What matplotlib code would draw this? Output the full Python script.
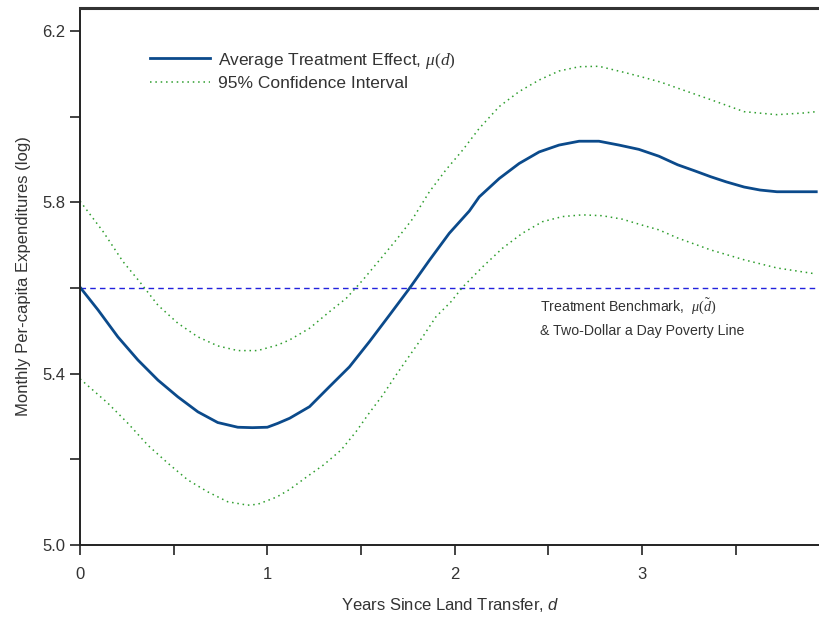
import numpy as np
import matplotlib
matplotlib.use("Agg")
import matplotlib.pyplot as plt

plt.rcParams['font.family'] = ['Liberation Sans', 'DejaVu Sans']
plt.rcParams['mathtext.fontset'] = 'custom'
plt.rcParams['mathtext.rm'] = 'Liberation Serif'
plt.rcParams['mathtext.it'] = 'Liberation Serif:italic'
plt.rcParams['mathtext.sf'] = 'Liberation Sans:italic'

# average treatment effect
ate_d = [0.0, 0.096, 0.202, 0.309, 0.416, 0.522, 0.629, 0.735, 0.842, 0.92,
         1.0, 1.055, 1.119, 1.225, 1.332, 1.438, 1.545, 1.652, 1.758, 1.865,
         1.971, 2.078, 2.131, 2.238, 2.344, 2.451, 2.557, 2.664, 2.770,
         2.877, 2.983, 3.090, 3.19, 3.28, 3.367, 3.45, 3.545, 3.63, 3.72,
         3.93]
ate_y = [5.602, 5.549, 5.486, 5.432, 5.385, 5.346, 5.311, 5.286, 5.275,
         5.274, 5.275, 5.284, 5.296, 5.323, 5.370, 5.416, 5.475, 5.537,
         5.599, 5.665, 5.728, 5.780, 5.813, 5.856, 5.891, 5.918, 5.934,
         5.943, 5.943, 5.934, 5.924, 5.908, 5.888, 5.874, 5.860, 5.848,
         5.836, 5.829, 5.825, 5.825]

# 95% confidence band
up_d = [0.0, 0.123, 0.229, 0.318, 0.416, 0.522, 0.629, 0.735, 0.842, 0.948,
        1.055, 1.119, 1.225, 1.332, 1.421, 1.510, 1.598, 1.687, 1.776,
        1.865, 1.953, 2.042, 2.131, 2.238, 2.344, 2.451, 2.557, 2.664,
        2.770, 2.912, 3.0, 3.1, 3.19, 3.367, 3.545, 3.72, 3.865, 3.93]
up_y = [5.803, 5.732, 5.662, 5.615, 5.560, 5.518, 5.486, 5.465, 5.454,
        5.454, 5.467, 5.479, 5.506, 5.545, 5.576, 5.619, 5.665, 5.712,
        5.762, 5.825, 5.876, 5.922, 5.973, 6.024, 6.059, 6.086, 6.107,
        6.117, 6.118, 6.103, 6.093, 6.081, 6.067, 6.040, 6.012, 6.005,
        6.009, 6.012]

lo_d = [0.0, 0.149, 0.256, 0.362, 0.469, 0.575, 0.682, 0.788, 0.895, 0.948,
        1.05, 1.12, 1.21, 1.30, 1.394, 1.474, 1.545, 1.616, 1.687, 1.749,
        1.829, 1.900, 1.980, 2.042, 2.15, 2.255, 2.361, 2.468, 2.575, 2.681,
        2.788, 2.894, 3.001, 3.090, 3.19, 3.367, 3.545, 3.72, 3.93]
lo_y = [5.388, 5.331, 5.284, 5.233, 5.191, 5.152, 5.124, 5.101, 5.093,
        5.095, 5.112, 5.130, 5.159, 5.187, 5.222, 5.265, 5.309, 5.350,
        5.397, 5.436, 5.486, 5.533, 5.568, 5.602, 5.650, 5.693, 5.728,
        5.755, 5.767, 5.771, 5.769, 5.761, 5.747, 5.736, 5.717, 5.689,
        5.666, 5.647, 5.633]

benchmark = 5.6
x_ticks = [0, 1, 2, 3]
y_ticks = [5.0, 5.4, 5.8, 6.2]

fig = plt.figure(figsize=(8.2, 6.2), dpi=100)
ax = fig.add_axes([0.0976, 0.121, 0.9024, 0.866])

ax.axhline(benchmark, color='#2222dd', lw=1.0, ls=(0, (4, 3)))
ax.plot(up_d, up_y, color='#2e9e2e', lw=1.1, ls=(0, (1, 2.5)),
        label='95% Confidence Interval')
ax.plot(lo_d, lo_y, color='#2e9e2e', lw=1.1, ls=(0, (1, 2.5)))
ax.plot(ate_d, ate_y, color='#0b4a8b', lw=2.0,
        label=r'Average Treatment Effect, $\mu(d)$')

ax.set_xlim(0, 3.95)
ax.set_ylim(5.0, 6.254)
ax.set_xticks(x_ticks)
ax.set_xticks([0.5, 1.5, 2.5, 3.5], minor=True)
ax.set_yticks(y_ticks)
ax.set_yticklabels(['%.1f' % v for v in y_ticks])
ax.set_yticks([5.2, 5.6, 6.0], minor=True)
ax.tick_params(which='both', direction='out', length=7, width=1.2,
               colors='#222222', labelsize=12, labelcolor='#333333')
ax.tick_params(axis='x', pad=9)

for s in ['left', 'bottom']:
    ax.spines[s].set_linewidth(1.4)
    ax.spines[s].set_color('#222222')
ax.spines['top'].set_linewidth(2.2)
ax.spines['top'].set_color('#333333')
ax.spines['right'].set_visible(False)

ax.set_xlabel(r'Years Since Land Transfer, $\mathsf{d}$', fontsize=12,
              color='#333333', labelpad=10)
ax.set_ylabel('Monthly Per-capita Expenditures (log)', fontsize=12,
              color='#333333', labelpad=8)

h, l = ax.get_legend_handles_labels()
ax.legend(h[::-1], l[::-1], loc='upper left', bbox_to_anchor=(0.073, 0.95),
          frameon=False, fontsize=12.5, handlelength=3.45, handletextpad=0.5,
          labelspacing=0.32, labelcolor='#333333')

ax.text(2.456, 5.558, r'Treatment Benchmark,  $\mu(\tilde{d})$', fontsize=10.2,
        color='#333333', va='center')
ax.text(2.456, 5.500, '& Two-Dollar a Day Poverty Line', fontsize=10.2,
        color='#333333', va='center')

fig.savefig('out.png', dpi=100)
